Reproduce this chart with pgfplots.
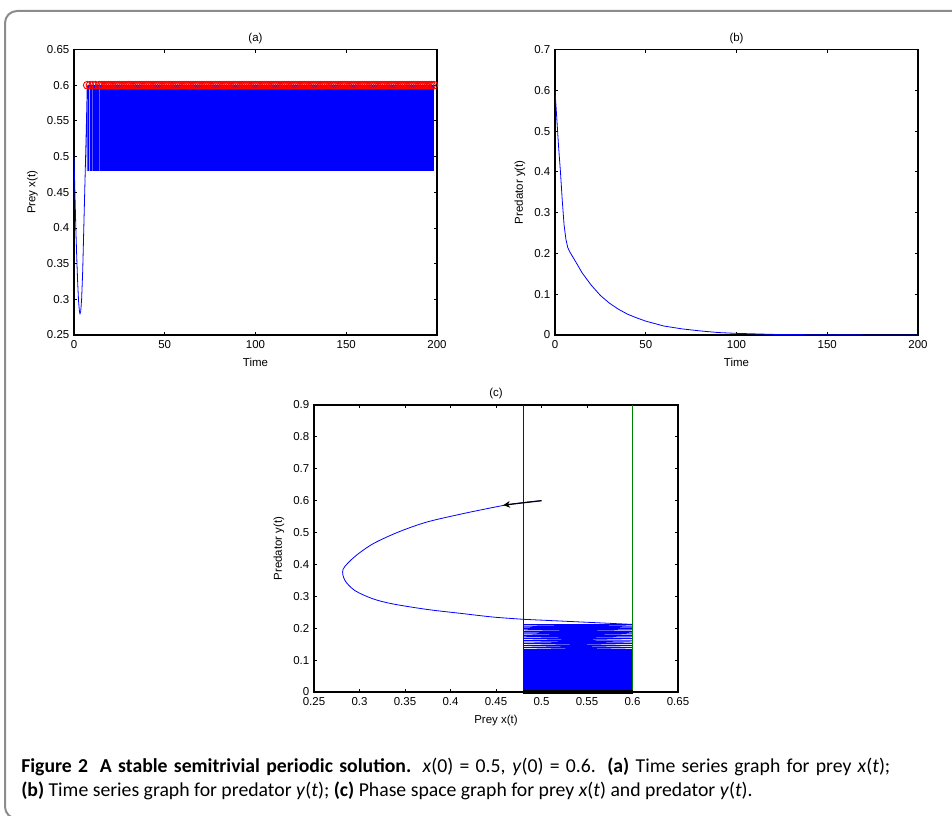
\documentclass[border=0pt]{standalone}
\usepackage{fontspec}
\setmainfont{Carlito}
\newfontfamily\axfont{Liberation Sans}
\usepackage{pgfplots}
\pgfplotsset{compat=1.18}
\usetikzlibrary{arrows.meta}

\definecolor{mgreen}{rgb}{0,0.5,0}
\definecolor{framegray}{gray}{0.55}

\pgfplotsset{
  mat/.style={
    scale only axis,
    axis line style={line width=0.8pt},
    tick align=inside, tick pos=both,
    major tick length=2.6pt,
    every tick/.style={black, line width=0.6pt},
    scaled ticks=false,
    /pgf/number format/assume math mode=true,
    tick label style={font=\axfont\fontsize{8.6}{10}\selectfont},
    label style={font=\axfont\fontsize{8.6}{10}\selectfont},
    title style={font=\axfont\fontsize{8.6}{10}\selectfont, yshift=-5pt},
    xticklabel style={/pgf/number format/fixed, /pgf/number format/precision=2, yshift=-0.8pt},
    yticklabel style={/pgf/number format/fixed, /pgf/number format/precision=2},
  },
  dense/.style={draw=none, fill=blue},
}

\begin{document}
\begin{tikzpicture}
\useasboundingbox (0,0) rectangle (714pt,-612pt);
\draw[framegray, line width=1.5pt, rounded corners=9pt] (3.75pt,-8.25pt) rectangle (730pt,-614pt);

% (a) prey time series
\begin{axis}[mat, at={(55.5pt,-251.25pt)}, anchor=south west,
  width=272.25pt, height=214.1pt,
  xmin=0, xmax=200, ymin=0.25, ymax=0.65,
  xtick={0,50,100,150,200}, ytick={0.25,0.3,0.35,0.4,0.45,0.5,0.55,0.6,0.65},
  title={(a)}, xlabel={Time}, ylabel={Prey x(t)}]
\addplot[blue, line width=0.6pt] coordinates {
  (0,0.5)(0.5,0.45)(1,0.40)(1.5,0.36)(2,0.325)(2.5,0.298)(3,0.283)(3.3,0.28)
  (3.7,0.283)(4.2,0.30)(4.8,0.34)(5.4,0.40)(6,0.46)(6.6,0.52)(7,0.565)(7.3,0.6)
  (7.3,0.48)(7.35,0.58)(7.6,0.598)(8.8,0.6)
  (8.8,0.48)(8.85,0.58)(9.1,0.598)(10.3,0.6)
  (10.3,0.48)(10.35,0.58)(10.6,0.598)(11.9,0.6)
  (11.9,0.48)(11.95,0.58)(12.2,0.598)(13.9,0.6)(13.9,0.48)};
\addplot[dense] coordinates {(7.5,0.48)(8.5,0.48)(8.5,0.6)(7.5,0.6)} -- cycle;
\addplot[dense] coordinates {(9.0,0.48)(10.0,0.48)(10.0,0.6)(9.0,0.6)} -- cycle;
\addplot[dense] coordinates {(10.5,0.48)(11.6,0.48)(11.6,0.6)(10.5,0.6)} -- cycle;
\addplot[dense] coordinates {(12.1,0.48)(13.6,0.48)(13.6,0.6)(12.1,0.6)} -- cycle;
\addplot[dense] coordinates {(14.1,0.48)(198.3,0.48)(198.3,0.6)(14.1,0.6)} -- cycle;
\addplot[only marks, red, mark=o, mark size=2.9pt, mark options={line width=0.7pt}] coordinates {
  (7.3,0.6)(8.8,0.6)(10.3,0.6)(11.9,0.6)(13.9,0.6)
  (15,0.6)(16,0.6)(17,0.6)(18,0.6)(19,0.6)(20,0.6)(21,0.6)(22,0.6)(23,0.6)(24,0.6)
  (25,0.6)(26,0.6)(27,0.6)(28,0.6)(29,0.6)(30,0.6)(31,0.6)(32,0.6)(33,0.6)(34,0.6)
  (35,0.6)(36,0.6)(37,0.6)(38,0.6)(39,0.6)(40,0.6)(41,0.6)(42,0.6)(43,0.6)(44,0.6)
  (45,0.6)(46,0.6)(47,0.6)(48,0.6)(49,0.6)(50,0.6)(51,0.6)(52,0.6)(53,0.6)(54,0.6)
  (55,0.6)(56,0.6)(57,0.6)(58,0.6)(59,0.6)(60,0.6)(61,0.6)(62,0.6)(63,0.6)(64,0.6)
  (65,0.6)(66,0.6)(67,0.6)(68,0.6)(69,0.6)(70,0.6)(71,0.6)(72,0.6)(73,0.6)(74,0.6)
  (75,0.6)(76,0.6)(77,0.6)(78,0.6)(79,0.6)(80,0.6)(81,0.6)(82,0.6)(83,0.6)(84,0.6)
  (85,0.6)(86,0.6)(87,0.6)(88,0.6)(89,0.6)(90,0.6)(91,0.6)(92,0.6)(93,0.6)(94,0.6)
  (95,0.6)(96,0.6)(97,0.6)(98,0.6)(99,0.6)(100,0.6)(101,0.6)(102,0.6)(103,0.6)(104,0.6)
  (105,0.6)(106,0.6)(107,0.6)(108,0.6)(109,0.6)(110,0.6)(111,0.6)(112,0.6)(113,0.6)(114,0.6)
  (115,0.6)(116,0.6)(117,0.6)(118,0.6)(119,0.6)(120,0.6)(121,0.6)(122,0.6)(123,0.6)(124,0.6)
  (125,0.6)(126,0.6)(127,0.6)(128,0.6)(129,0.6)(130,0.6)(131,0.6)(132,0.6)(133,0.6)(134,0.6)
  (135,0.6)(136,0.6)(137,0.6)(138,0.6)(139,0.6)(140,0.6)(141,0.6)(142,0.6)(143,0.6)(144,0.6)
  (145,0.6)(146,0.6)(147,0.6)(148,0.6)(149,0.6)(150,0.6)(151,0.6)(152,0.6)(153,0.6)(154,0.6)
  (155,0.6)(156,0.6)(157,0.6)(158,0.6)(159,0.6)(160,0.6)(161,0.6)(162,0.6)(163,0.6)(164,0.6)
  (165,0.6)(166,0.6)(167,0.6)(168,0.6)(169,0.6)(170,0.6)(171,0.6)(172,0.6)(173,0.6)(174,0.6)
  (175,0.6)(176,0.6)(177,0.6)(178,0.6)(179,0.6)(180,0.6)(181,0.6)(182,0.6)(183,0.6)(184,0.6)
  (185,0.6)(186,0.6)(187,0.6)(188,0.6)(189,0.6)(190,0.6)(191,0.6)(192,0.6)(193,0.6)(194,0.6)
  (195,0.6)(196,0.6)(197,0.6)(198.3,0.6)};
\end{axis}

% (b) predator time series
\begin{axis}[mat, at={(416.25pt,-251.25pt)}, anchor=south west,
  width=272.25pt, height=214.1pt,
  xmin=0, xmax=200, ymin=0, ymax=0.7,
  xtick={0,50,100,150,200}, ytick={0,0.1,0.2,0.3,0.4,0.5,0.6,0.7},
  title={(b)}, xlabel={Time}, ylabel={Predator y(t)}]
\addplot[blue, line width=0.6pt] coordinates {
  (0,0.6)(1,0.53)(2,0.46)(3,0.40)(4,0.33)(5,0.27)(6,0.235)(7,0.215)(8,0.205)
  (10,0.19)(12,0.175)(15,0.152)(20,0.122)(25,0.097)(30,0.078)(35,0.063)(40,0.051)
  (45,0.042)(50,0.034)(55,0.028)(60,0.022)(70,0.015)(80,0.01)(90,0.006)(100,0.004)
  (120,0.0015)(150,0.0004)(200,0)};
\end{axis}

% (c) phase space
\begin{axis}[mat, at={(235.5pt,-519pt)}, anchor=south west,
  width=273pt, height=215.25pt, clip=false,
  xmin=0.25, xmax=0.65, ymin=0, ymax=0.9,
  xtick={0.25,0.3,0.35,0.4,0.45,0.5,0.55,0.6,0.65},
  ytick={0,0.1,0.2,0.3,0.4,0.5,0.6,0.7,0.8,0.9},
  title={(c)}, xlabel={Prey x(t)}, ylabel={Predator y(t)}]
\addplot[blue, line width=0.6pt, smooth, tension=0.5] coordinates {
  (0.5,0.6)(0.48,0.594)(0.46,0.586)(0.435,0.572)(0.41,0.557)(0.374,0.533)
  (0.343,0.502)(0.315,0.465)(0.295,0.425)(0.282,0.385)(0.284,0.35)(0.295,0.318)
  (0.315,0.292)(0.337,0.276)(0.374,0.259)(0.41,0.247)(0.447,0.235)(0.48,0.228)};
\addplot[blue, line width=0.6pt] coordinates {
  (0.48,0.228)(0.6,0.212)
  (0.48,0.212)(0.6,0.207)(0.48,0.207)(0.6,0.203)(0.48,0.203)(0.6,0.199)
  (0.48,0.199)(0.6,0.195)(0.48,0.195)(0.6,0.19)(0.48,0.19)(0.6,0.186)
  (0.48,0.186)(0.6,0.182)(0.48,0.182)(0.6,0.177)(0.48,0.177)(0.6,0.173)
  (0.48,0.173)(0.6,0.168)(0.48,0.168)(0.6,0.162)(0.48,0.162)(0.6,0.157)
  (0.48,0.157)(0.6,0.152)(0.48,0.152)(0.6,0.146)(0.48,0.146)(0.6,0.14)
  (0.48,0.14)(0.6,0.134)(0.48,0.134)(0.6,0.13)};
\addplot[dense] coordinates {
  (0.48,0)(0.6,0)(0.6,0.136)(0.48,0.136)} -- cycle;
\addplot[blue, line width=0.6pt] coordinates {(0.48,0)(0.48,0.9)};
\addplot[mgreen, line width=0.6pt] coordinates {(0.6,0)(0.6,0.9)};
\addplot[black, line width=2.3pt] coordinates {(0.48,0)(0.6,0)};
\addplot[black, line width=0.9pt, -{Stealth[length=5pt, width=5pt, inset=1.5pt]}] coordinates {
  (0.5,0.6)(0.458,0.586)};
\end{axis}

% caption: first line justified to the column, second line ragged
\node[anchor=base west, inner sep=0pt, font=\fontsize{14.8}{18}\selectfont] at (15.75pt,-579pt)
  {\makebox[651.75pt][s]{\textbf{Figure 2\hspace{0.6em}A stable semitrivial periodic solution.} \textit{x}(0) = 0.5, \textit{y}(0) = 0.6. \textbf{(a)} Time series graph for prey \textit{x}(\textit{t});}};
\node[anchor=base west, inner sep=0pt, font=\fontsize{14.8}{18}\selectfont] at (15.75pt,-597pt)
  {\textbf{(b)} Time series graph for predator \textit{y}(\textit{t}); \textbf{(c)} Phase space graph for prey \textit{x}(\textit{t}) and predator \textit{y}(\textit{t}).};
\end{tikzpicture}
\end{document}
